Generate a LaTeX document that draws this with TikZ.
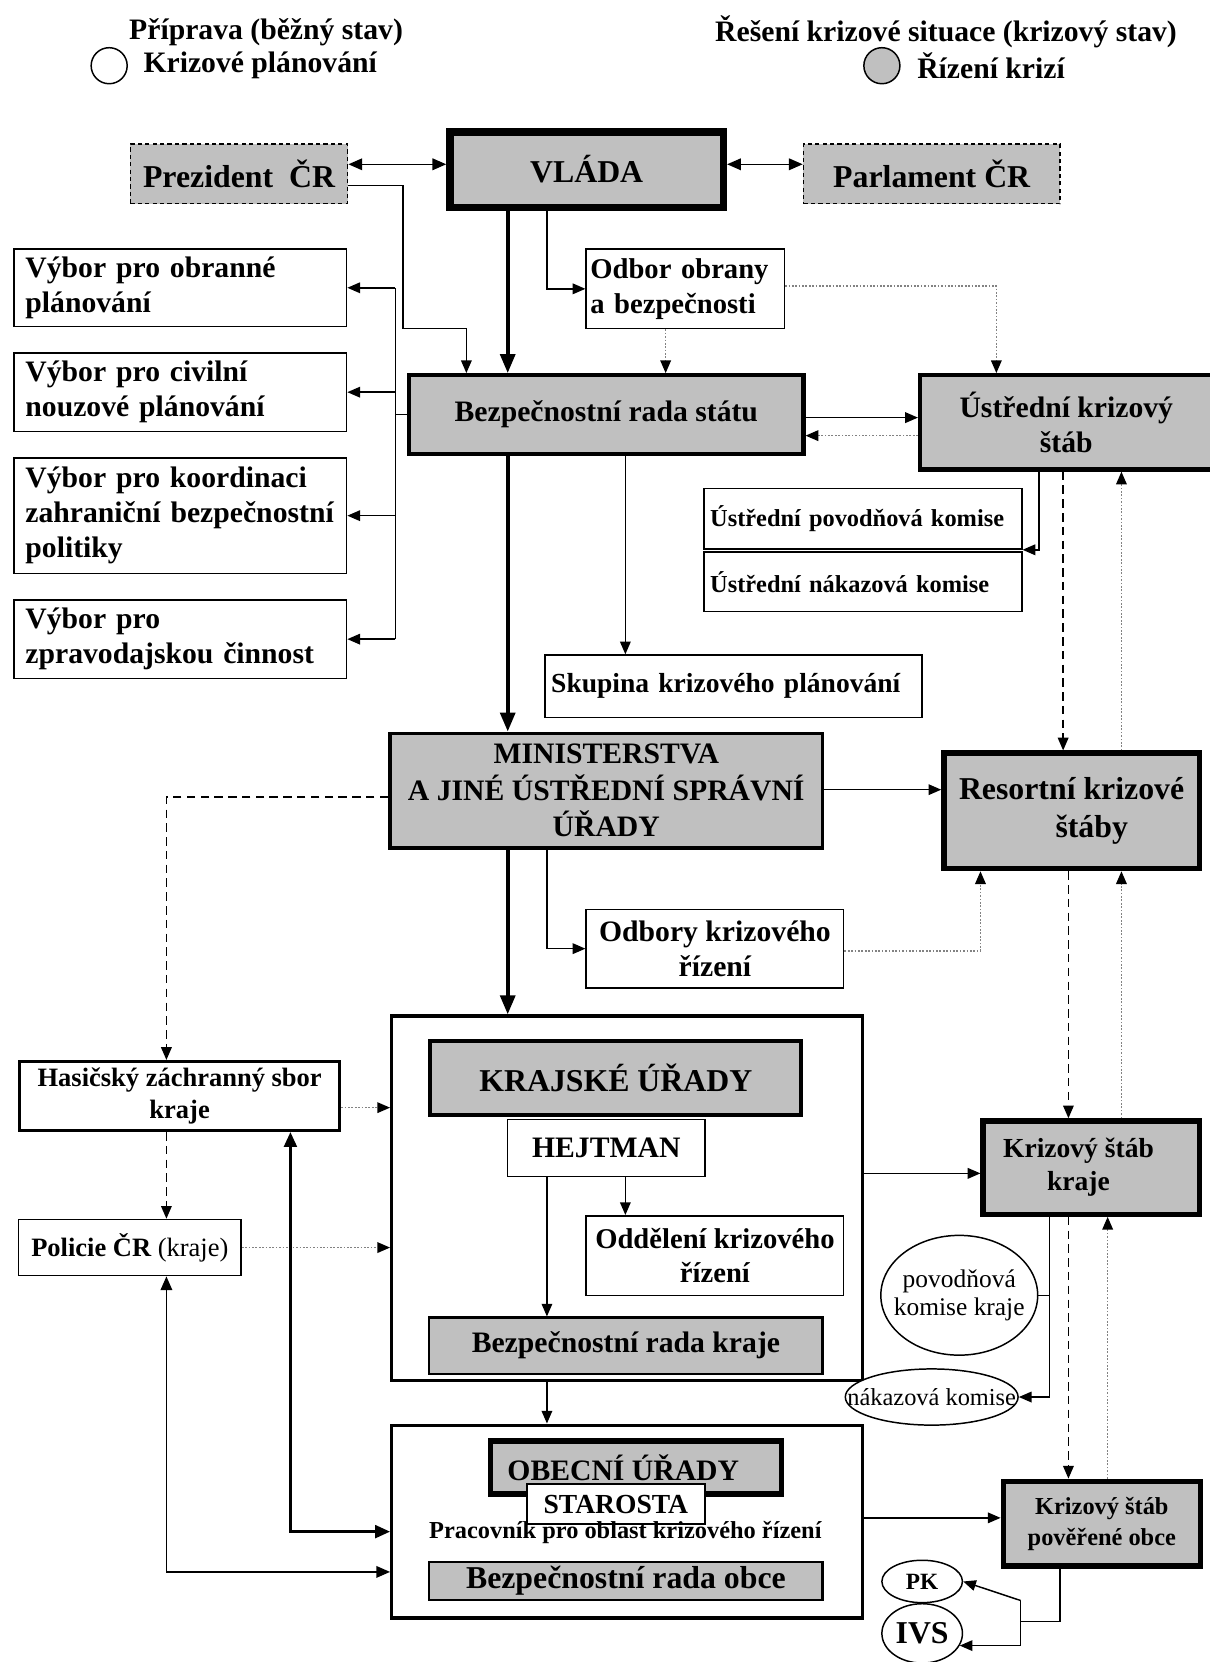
\documentclass[tikz,border=0pt]{standalone}
\usepackage{fontspec}
\setmainfont{Liberation Serif}
\usetikzlibrary{arrows.meta,shapes.geometric}
\definecolor{kgray}{RGB}{192,192,192}
\definecolor{dotgray}{RGB}{130,130,130}
\newcommand{\myfs}[2]{\fontsize{#1}{#2}\selectfont}
\tikzset{
  box/.style={draw, fill=white, line width=0.7pt, inner sep=2pt, font=\bfseries\myfs{14}{16.5}, align=center},
  gbox/.style={box, fill=kgray},
  thinline/.style={line width=0.7pt},
  conn/.style={line width=0.7pt, -{Triangle[length=6pt,width=5pt,color=black]}},
  biconn/.style={line width=0.7pt, {Triangle[length=6.5pt,width=5.5pt]}-{Triangle[length=6.5pt,width=5.5pt]}},
  bbiconn/.style={line width=1.3pt, {Triangle[length=7pt,width=6pt]}-{Triangle[length=7pt,width=6pt]}},
  bconn/.style={line width=1.8pt, -{Triangle[length=9pt,width=7pt]}},
  dotconn/.style={conn, draw=dotgray, dash pattern=on 0.8pt off 0.8pt},
  dashconn/.style={conn, dash pattern=on 4pt off 2.5pt},
  ell/.style={ellipse, draw, line width=0.7pt, inner sep=0pt, fill=white},
  etext/.style={inner sep=0pt, align=center, font=\myfs{12}{13}},
  legtext/.style={inner sep=0pt, font=\bfseries\myfs{14}{16}},
}
\begin{document}
\begin{tikzpicture}[x=0.5pt,y=-0.5pt]
\useasboundingbox (0,0) rectangle (1141,1568);

% legend
\node[legtext] (leg1h) at (251,30) {Příprava (běžný stav)};
\node[ell, minimum width=17pt, minimum height=17pt] (leg1) at (103,62) {};
\node[legtext, anchor=west] (leg1t) at (135,62) {Krizové plánování};
\node[legtext] (leg2h) at (892.5,30) {Řešení krizové situace (krizový stav)};
\node[ell, fill=kgray, minimum width=17pt, minimum height=17pt] (leg2) at (832,62) {};
\node[legtext, anchor=west] (leg2t) at (865,62) {Řízení krizí};

% top row
\node[gbox, dash pattern=on 2pt off 1.5pt, minimum width=102.5pt, minimum height=28pt, font=\bfseries\myfs{15}{17}] (prez) at (225.5,164) {Prezident\ \ ČR};
\node[gbox, line width=3.5pt, minimum width=129pt, minimum height=35.5pt, font=\bfseries\myfs{15}{17}] (vlada) at (553.5,160) {VLÁDA};
\node[gbox, dash pattern=on 2pt off 1.5pt, minimum width=121pt, minimum height=28pt, font=\bfseries\myfs{15}{17}] (parl) at (879,164) {Parlament ČR};

\node[box, align=left, text width=89.5pt, inner xsep=2pt, minimum height=37.5pt, font=\bfseries\myfs{13.5}{16.5}] (odbor) at (646.5,272.5) {Odbor obrany\\a bezpečnosti};

% vybory
\node[box, align=left, text width=146pt, inner xsep=5.5pt, minimum height=36.5pt] (v1) at (170,271.5) {Výbor pro obranné\\plánování};
\node[box, align=left, text width=146pt, inner xsep=5.5pt, minimum height=37pt] (v2) at (170,370) {Výbor pro civilní\\nouzové plánování};
\node[box, align=left, text width=146pt, inner xsep=5.5pt, minimum height=54.5pt] (v3) at (170,486.5) {Výbor pro koordinaci\\zahraniční bezpečnostní\\politiky};
\node[box, align=left, text width=146pt, inner xsep=5.5pt, minimum height=37pt] (v4) at (170,603) {Výbor pro\\zpravodajskou činnost};

\node[gbox, line width=2pt, minimum width=186pt, minimum height=37pt] (bezp) at (572,391) {Bezpečnostní rada státu};
\node[gbox, line width=2pt, minimum width=138pt, minimum height=44.5pt] (ustr) at (1006,398.5) {Ústřední krizový\\štáb};

\node[box, align=left, text width=144pt, inner xsep=3pt, minimum height=28.5pt, font=\bfseries\myfs{11.5}{13}] (upk) at (814,489.5) {Ústřední povodňová komise};
\node[box, align=left, text width=144pt, inner xsep=3pt, minimum height=28pt, font=\bfseries\myfs{11.5}{13}] (unk) at (814,549) {Ústřední nákazová komise};
\node[box, align=left, text width=172pt, inner xsep=3pt, minimum height=29.5pt, font=\bfseries\myfs{13}{15}] (skup) at (692,647.5) {Skupina krizového plánování};

\node[gbox, line width=1.8pt, minimum width=204pt, minimum height=54pt, font=\bfseries\myfs{14}{17.2}] (min) at (572,746) {MINISTERSTVA\\A JINÉ ÚSTŘEDNÍ SPRÁVNÍ\\ÚŘADY};
\node[gbox, line width=2.5pt, minimum width=120.5pt, minimum height=54.5pt, font=\bfseries\myfs{15}{17.5}] (resort) at (1011,765) {Resortní krizové\\\hspace*{19pt}štáby};
\node[box, minimum width=121.5pt, minimum height=37pt] (odbory) at (674.5,895) {Odbory krizového\\řízení};

% kraj
\node[box, line width=1.5pt, minimum width=222pt, minimum height=172pt] (kraj) at (591.5,1130.5) {};
\node[gbox, line width=2pt, minimum width=175pt, minimum height=35pt, font=\bfseries\myfs{15}{17}] (krajske) at (581,1017) {KRAJSKÉ ÚŘADY};
\node[box, minimum width=93pt, minimum height=27pt] (hejt) at (572,1083) {HEJTMAN};
\node[box, minimum width=121.5pt, minimum height=37.5pt, font=\bfseries\myfs{13.5}{16}] (oddel) at (674.5,1184.5) {Oddělení krizového\\řízení};
\node[gbox, line width=1pt, minimum width=185.5pt, minimum height=26.5pt] (bezpk) at (590.5,1269.5) {Bezpečnostní rada kraje};

\node[box, line width=1.5pt, minimum width=151pt, minimum height=32.5pt, font=\bfseries\myfs{12.5}{15}] (hzs) at (169.5,1034) {Hasičský záchranný sbor\\kraje};
\node[box, minimum width=105pt, minimum height=26.5pt, font=\bfseries\myfs{12.5}{15}] (pol) at (122.5,1177) {Policie ČR \mdseries(kraje)};

\node[gbox, line width=2.5pt, minimum width=102pt, minimum height=44pt, font=\bfseries\myfs{13}{15.5}] (ksk) at (1029.5,1101.5) {Krizový štáb\hspace*{12pt}\\kraje\hspace*{12pt}};
\node[ell, minimum width=74pt, minimum height=56.5pt] (povk) at (905,1222) {};
\node[etext] (povkt) at (povk) {povodňová\\komise kraje};
\node[ell, minimum width=81.5pt, minimum height=26.5pt] (nakk) at (879,1318) {};
\node[etext, font=\myfs{11.5}{13}] (nakkt) at (nakk) {nákazová komise};

% obec
\node[box, line width=1.5pt, minimum width=222pt, minimum height=91pt] (obec) at (591.5,1435.5) {};
\node[gbox, line width=2.5pt, minimum width=137.5pt, minimum height=25pt] (obecu) at (600,1384.5) {OBECNÍ ÚŘADY\hspace*{12pt}};
\node[box, minimum width=84pt, minimum height=19pt, inner sep=0.5pt, font=\bfseries\myfs{13}{14}] (star) at (581,1419) {STAROSTA};
\node[inner sep=0pt, font=\bfseries\myfs{11.5}{13}] (prac) at (590,1446) {Pracovník pro oblast krizového řízení};
\node[gbox, line width=1pt, minimum width=185.5pt, minimum height=18pt, inner sep=0.5pt, font=\bfseries\myfs{15}{16}] (bezpo) at (590.5,1491.5) {Bezpečnostní rada obce};

\node[gbox, line width=2.5pt, minimum width=93pt, minimum height=40pt, font=\bfseries\myfs{11.5}{14.5}] (kspo) at (1039.5,1437.5) {Krizový štáb\\pověřené obce};
\node[ell, minimum width=38pt, minimum height=20pt] (pk) at (870,1492) {};
\node[etext, font=\bfseries\myfs{11}{12}] (pkt) at (pk) {PK};
\node[ell, minimum width=38pt, minimum height=28pt] (ivs) at (870,1541) {};
\node[etext, font=\bfseries\myfs{15}{16}] (ivst) at (ivs) {IVS};

% connectors top
\draw[biconn] (prez.east |- 0,155) -- (vlada.west |- 0,155);
\draw[biconn] (vlada.east |- 0,155) -- (parl.west |- 0,155);
\draw[conn] (prez.east |- 0,175) -- (380,175) -- (380,310) -- (440,310) -- (bezp.north -| 440,0);
\draw[bconn] (vlada.south -| 479,0) -- (bezp.north -| 479,0);
\draw[conn] (vlada.south -| 516,0) |- (odbor.west);
\draw[dotconn] (odbor.south -| 628,0) -- (bezp.north -| 628,0);
\draw[dotconn] (odbor.east |- 0,270) -| (ustr.north -| 940,0);

% bus to vybory
\draw[thinline] (bezp.west) -- (bezp.west -| 373,0);
\draw[thinline] (v1.east -| 373,0) -- (v4.east -| 373,0);
\foreach \v in {v1,v2,v3,v4} \draw[conn] (\v.east -| 373,0) -- (\v.east);

\draw[conn] (bezp.east |- 0,394) -- (ustr.west |- 0,394);
\draw[dotconn] (ustr.west |- 0,411) -- (bezp.east |- 0,411);
\draw[conn] (ustr.south -| 980,0) |- (upk.south east);
\draw[conn] (bezp.south -| 590,0) -- (skup.north -| 590,0);
\draw[bconn] (bezp.south -| 479,0) -- (min.north -| 479,0);
\draw[dashconn] (ustr.south -| 1003,0) -- (resort.north -| 1003,0);
\draw[dotconn] (resort.north -| 1058,0) -- (ustr.south -| 1058,0);

% ministerstva
\draw[conn] (min.east |- 0,745) -- (resort.west |- 0,745);
\draw[dashconn] (min.west |- 0,752) -| (hzs.north -| 157,0);
\draw[bconn] (min.south -| 479,0) -- (kraj.north -| 479,0);
\draw[conn] (min.south -| 516,0) |- (odbory.west);
\draw[dotconn] (odbory.east |- 0,897) -| (resort.south -| 925,0);
\draw[dashconn] (resort.south -| 1008,0) -- (ksk.north -| 1008,0);
\draw[dotconn] (ksk.north -| 1058,0) -- (resort.south -| 1058,0);

% kraj
\draw[conn] (hejt.south -| 590,0) -- (oddel.north -| 590,0);
\draw[conn] (hejt.south -| 516,0) -- (bezpk.north -| 516,0);
\draw[dotconn] (hzs.east |- 0,1045) -- (kraj.west |- 0,1045);
\draw[dashconn] (hzs.south -| 157,0) -- (pol.north -| 157,0);
\draw[dotconn] (pol.east) -- (kraj.west |- pol.east);
\draw[conn] (kraj.east |- 0,1107) -- (ksk.west |- 0,1107);
\draw[conn] (kraj.south -| 516,0) -- (obec.north -| 516,0);
\draw[conn] (ksk.south -| 990,0) |- (nakk.east);
\draw[thinline] (povk.east) -- (povk.east -| 990,0);
\draw[dashconn] (ksk.south -| 1008,0) -- (kspo.north -| 1008,0);
\draw[dotconn] (kspo.north -| 1045,0) -- (ksk.south -| 1045,0);

% obec
\draw[bbiconn] (hzs.south -| 274,0) |- (obec.west |- 0,1445);
\draw[biconn] (pol.south -| 157,0) |- (obec.west |- 0,1483);
\draw[conn] (obec.east |- 0,1432) -- (kspo.west |- 0,1432);
\draw[thinline] (kspo.south -| 1000,0) |- (963,1530);
\coordinate (fork) at (963,1510);
\draw[conn] (fork) -- (pk.east);
\draw[conn] (fork) |- (ivs.-18);
\end{tikzpicture}
\end{document}
